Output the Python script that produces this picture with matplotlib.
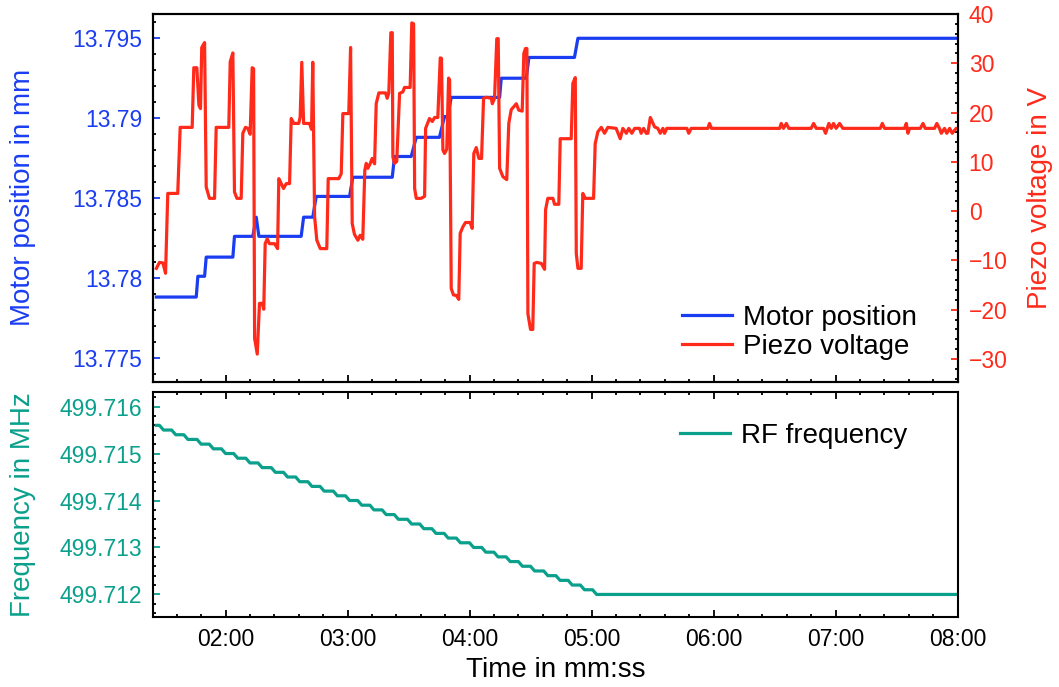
# Motor position / piezo voltage / RF frequency vs time
import matplotlib
matplotlib.use('Agg')
import matplotlib.pyplot as plt
from matplotlib.ticker import MultipleLocator, FuncFormatter

plt.rcParams['font.family'] = ['Liberation Sans', 'DejaVu Sans']

blue = '#1a3df2'
red = '#ff2a1a'
teal = '#0aa08c'

# time in seconds
motor_time = [86, 105.6, 106.4, 109.7, 110.5, 123.6, 124.4, 133.4, 135.1, 136.4,
              157.2, 158.4, 162.9, 164.6, 181.0, 182.6, 202.0, 203.1, 211.3, 213.8,
              225.2, 227.7, 229.3, 231.0, 254.8, 255.6, 267.9, 269.2, 291.6, 293.3, 480]
motor_pos = [13.7788, 13.7788, 13.7801, 13.7801, 13.7813, 13.7813, 13.7826, 13.7826,
             13.7838, 13.7826, 13.7826, 13.7838, 13.7838, 13.7851, 13.7851, 13.7863,
             13.7863, 13.7876, 13.7876, 13.7888, 13.7888, 13.7901, 13.7901, 13.7913,
             13.7913, 13.7925, 13.7925, 13.7938, 13.7938, 13.7950, 13.7950]

piezo_time = [86, 87.5, 89.2, 90.5, 91.6, 96.5, 97.7, 103.6, 104.4, 105.9,
              106.9, 107.7, 108.3, 109.7, 110.5, 112.1, 114.6, 115.4, 121.6, 122.3,
              123.6, 124.4, 125.6, 127.7, 128.5, 129.8, 131.0, 132.1, 133.1, 133.8,
              134.3, 135.6, 136.7, 138.0, 138.8, 139.5, 140.5, 141.6, 144.1, 145.6,
              146.2, 147.4, 148.5, 149.9, 151.5, 152.3, 153.6, 156.0, 156.7, 157.5,
              158.4, 161.3, 162.3, 162.9, 163.8, 164.9, 166.6, 169.8, 170.5, 175.7,
              176.9, 177.7, 180.6, 181.5, 182.3, 183.4, 185.1, 186.2, 187.5, 188.5,
              189.2, 190.0, 191.2, 192.1, 193.3, 194.1, 195.4, 198.7, 199.5, 200.3,
              201.3, 202.0, 202.3, 203.1, 204.2, 205.6, 207.2, 208.0, 210.8, 211.6,
              212.5, 213.0, 213.8, 216.2, 217.9, 218.4, 220.3, 221.7, 222.8, 224.4,
              225.6, 226.2, 226.9, 227.7, 228.8, 229.7, 230.2, 231.0, 232.1, 233.5,
              234.7, 235.4, 236.7, 238.0, 240.3, 241.3, 242.1, 243.3, 244.6, 245.9,
              246.9, 248.2, 250.7, 251.2, 252.3, 253.4, 254.1, 254.8, 256.4, 258.3,
              259.3, 260.5, 261.8, 263.0, 264.2, 265.9, 266.7, 267.5, 268.2, 268.7,
              270.0, 271.1, 271.8, 273.1, 275.3, 276.9, 277.4, 278.5, 281.0, 281.8,
              283.9, 284.6, 290.0, 290.8, 292.0, 292.5, 293.3, 294.9, 295.7, 296.9,
              301.0, 301.8, 303.1, 304.8, 306.4, 308.0, 312.1, 314.1, 315.4, 317.1,
              318.3, 319.8, 321.2, 323.6, 324.4, 325.6, 326.9, 327.7, 328.9, 331.0,
              332.6, 333.8, 335.1, 335.9, 337.0, 346.9, 347.8, 349.0, 357.2, 358.0,
              359.0, 392.5, 393.3, 394.4, 395.8, 397.0, 408.0, 409.2, 410.5, 414.1,
              415.1, 416.7, 417.9, 419.0, 420.3, 422.0, 423.6, 442.0, 443.0, 444.1,
              453.9, 454.8, 455.6, 456.4, 461.7, 463.0, 464.1, 468.7, 469.8, 471.1,
              472.0, 473.6, 474.7, 476.1, 477.4, 479.3, 480]
piezo_volt = [-11.6, -10.4, -10.5, -12.6, 3.6, 3.6, 17.0, 17.0, 29.1, 29.1,
              21.5, 20.8, 33.2, 34.2, 4.9, 2.6, 2.6, 17.0, 17.0, 30.3,
              32.1, 3.9, 2.6, 2.6, 15.8, 17.0, 16.8, 15.6, 29.1, 28.9,
              -25.8, -29.0, -18.7, -18.7, -19.9, -6.6, -5.6, -6.6, -6.6, -7.6,
              6.6, 5.6, 4.6, 5.6, 5.6, 18.8, 17.8, 17.8, 19.1, 30.2,
              17.8, 17.8, 16.6, 30.2, -1.1, -5.9, -7.6, -7.6, 6.6, 6.6,
              7.6, 19.8, 19.8, 33.2, -2.5, -4.7, -5.9, -4.9, -5.7, 8.3,
              9.7, 8.7, 9.7, 10.7, 9.6, 21.8, 24.0, 24.0, 22.9, 24.0,
              36.2, 36.2, 11.0, 9.7, 10.1, 23.9, 24.2, 25.1, 25.1, 38.2,
              38.0, 4.6, 2.6, 2.6, 3.0, 16.8, 18.8, 18.2, 19.0, 19.0,
              31.1, 31.0, 12.4, 11.7, 12.6, 27.0, 26.6, -15.7, -17.0, -17.1,
              -17.9, -4.5, -3.2, -2.3, -2.3, -3.5, 11.7, 12.9, 10.7, 10.7,
              22.9, 23.1, 22.9, 21.8, 22.9, 35.0, 35.0, 8.7, 7.0, 6.4,
              17.8, 20.6, 21.2, 21.8, 20.5, 20.3, 32.0, 33.0, 33.0, -20.8,
              -24.0, -24.0, -10.6, -10.4, -10.6, -11.8, 0.3, 2.6, 2.6, 1.4,
              1.4, 14.7, 14.7, 25.9, 27.1, -8.6, -11.6, -11.6, 3.6, 2.6,
              2.6, 13.7, 16.1, 17.0, 15.8, 17.0, 16.8, 14.7, 16.8, 15.8,
              16.8, 15.8, 16.8, 16.8, 15.8, 16.8, 15.8, 15.8, 19.0, 17.1,
              16.8, 15.8, 16.8, 15.8, 16.8, 16.8, 15.8, 16.8, 16.8, 17.8,
              16.8, 16.8, 17.8, 16.8, 17.8, 16.8, 16.8, 17.8, 16.8, 16.8,
              15.8, 17.8, 16.8, 17.8, 16.8, 17.8, 16.8, 16.8, 17.8, 16.8,
              16.8, 17.8, 15.8, 16.8, 16.8, 17.8, 16.8, 16.8, 17.8, 16.8,
              15.8, 16.8, 15.8, 16.8, 15.8, 16.8, 16.8]

rf_time = [86, 87.5, 89.5, 93.5, 95.5, 99.5, 101.5, 106, 108, 112, 114, 118, 120, 124,
           126, 130, 132, 136, 138, 142.5, 144.5, 148.5, 150.5, 154.5, 156.5, 160.5,
           162.5, 166.5, 168.5, 173, 175, 179, 181, 185, 187, 191, 193, 197, 199, 203,
           205, 209.5, 211.5, 215.5, 217.5, 221.5, 223.5, 227.5, 229.5, 233.5, 235.5,
           240, 242, 246, 248, 252, 254, 258, 260, 264, 266, 270, 272, 276.5, 278.5,
           282.5, 284.5, 288.5, 290.5, 294.5, 296.5, 300.5, 302.5, 480]
rf_freq = [499.7156, 499.7156, 499.7155, 499.7155, 499.7154, 499.7154, 499.7153, 499.7153,
           499.7152, 499.7152, 499.7151, 499.7151, 499.7150, 499.7150, 499.7149, 499.7149,
           499.7148, 499.7148, 499.7147, 499.7147, 499.7146, 499.7146, 499.7145, 499.7145,
           499.7144, 499.7144, 499.7143, 499.7143, 499.7142, 499.7142, 499.7141, 499.7141,
           499.7140, 499.7140, 499.7139, 499.7139, 499.7138, 499.7138, 499.7137, 499.7137,
           499.7136, 499.7136, 499.7135, 499.7135, 499.7134, 499.7134, 499.7133, 499.7133,
           499.7132, 499.7132, 499.7131, 499.7131, 499.7130, 499.7130, 499.7129, 499.7129,
           499.7128, 499.7128, 499.7127, 499.7127, 499.7126, 499.7126, 499.7125, 499.7125,
           499.7124, 499.7124, 499.7123, 499.7123, 499.7122, 499.7122, 499.7121, 499.7121,
           499.7120, 499.7120]


def mmss(x, pos):
    s = int(round(x))
    return '%02d:%02d' % (s // 60, s % 60)


def style_ticks(ax):
    ax.tick_params(which='both', direction='in', width=1.3, labelsize=16.5, pad=8)
    ax.tick_params(which='major', length=5)
    ax.tick_params(which='minor', length=2.5)
    for sp in ax.spines.values():
        sp.set_linewidth(1.5)


fig = plt.figure(figsize=(10.59, 6.87), dpi=100)
ax1 = fig.add_axes([0.1448, 0.4444, 0.7594, 0.5352])
ax2 = ax1.twinx()
ax3 = fig.add_axes([0.1448, 0.1019, 0.7594, 0.3282])

l1, = ax1.plot(motor_time, motor_pos, color=blue, lw=2.3, label='Motor position')
l2, = ax2.plot(piezo_time, piezo_volt, color=red, lw=2.3, label='Piezo voltage')
l3, = ax3.plot(rf_time, rf_freq, color=teal, lw=2.3, label='RF frequency')

for ax in (ax1, ax2, ax3):
    ax.set_xlim(84.5, 480)
    ax.xaxis.set_major_locator(MultipleLocator(60))
    ax.xaxis.set_minor_locator(MultipleLocator(12))
    ax.xaxis.set_major_formatter(FuncFormatter(mmss))
    style_ticks(ax)

ax1.set_ylim(13.7735, 13.79652)
ax1.yaxis.set_major_locator(MultipleLocator(0.005))
ax1.yaxis.set_minor_locator(MultipleLocator(0.001))
ax1.yaxis.set_major_formatter(FuncFormatter(lambda v, p: '%g' % round(v, 4)))
ax1.tick_params(axis='y', colors=blue)
ax1.tick_params(axis='x', labelbottom=False, top=False)
ax1.set_ylabel('Motor position in mm', color=blue, fontsize=20)
ax1.yaxis.set_label_coords(-0.162, 0.5)
ax1.yaxis.label.set_va('center')

ax2.set_ylim(-34.6, 40)
ax2.yaxis.set_major_locator(MultipleLocator(10))
ax2.yaxis.set_minor_locator(MultipleLocator(2))
ax2.tick_params(axis='y', colors=red)
ax2.set_ylabel('Piezo voltage in V', color=red, fontsize=20)
ax2.yaxis.set_label_coords(1.103, 0.5)
ax2.yaxis.label.set_va('center')

ax3.set_ylim(499.71152, 499.71632)
ax3.yaxis.set_major_locator(MultipleLocator(0.001))
ax3.yaxis.set_minor_locator(MultipleLocator(0.0002))
ax3.yaxis.set_major_formatter(FuncFormatter(lambda v, p: '%.3f' % v))
ax3.tick_params(axis='y', colors=teal)
ax3.tick_params(axis='x', which='both', top=True)
ax3.set_ylabel('Frequency in MHz', color=teal, fontsize=20)
ax3.yaxis.set_label_coords(-0.162, 0.5)
ax3.yaxis.label.set_va('center')
ax3.set_xlabel('Time in mm:ss', fontsize=20, labelpad=4)

for ax in (ax1, ax2, ax3):
    for lab in ax.get_xticklabels():
        lab.set_color('black')

ax2.legend(handles=[l1, l2], loc='lower right', frameon=False, fontsize=20,
           handlelength=1.8, handletextpad=0.4, labelspacing=0.1, borderaxespad=0,
           bbox_to_anchor=(0.9635, 0.03))
ax3.legend(handles=[l3], loc='upper right', frameon=False, fontsize=20,
           handlelength=1.8, handletextpad=0.4, borderaxespad=0,
           bbox_to_anchor=(0.951, 0.91))

plt.savefig('out.png', dpi=100)
